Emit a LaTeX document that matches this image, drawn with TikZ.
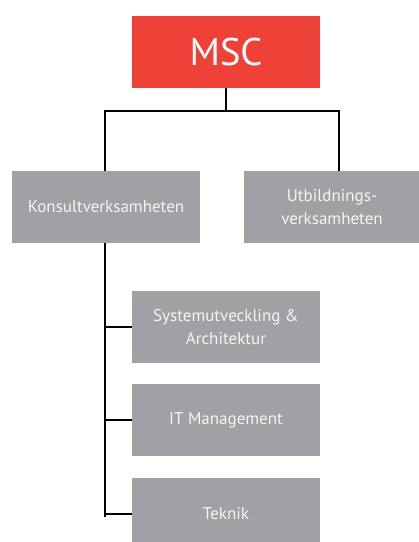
\documentclass[tikz,border=0pt]{standalone}
\usepackage{fontspec}
\setmainfont{PT Sans}
\definecolor{mscred}{HTML}{EE4137}
\definecolor{boxgray}{HTML}{A0A1A4}
\definecolor{txt}{HTML}{F4F4F4}
\begin{document}
\begin{tikzpicture}[x=1pt,y=-1pt,
  redbox/.style={fill=mscred,draw=none,minimum width=188pt,minimum height=72pt,inner sep=0pt,text=white,font=\fontsize{38.5}{42}\selectfont},
  graybox/.style={fill=boxgray,draw=none,minimum height=72pt,inner sep=0pt,text=txt,align=center,font=\fontsize{17}{22.5}\selectfont},
  conn/.style={line width=2pt,black}]
\useasboundingbox (0,0) rectangle (419,542);
\clip (0,0) rectangle (419,542);
\node[redbox] (msc) at (226,52) {MSC};
\node[graybox,minimum width=188pt] (kons) at (106,207) {Konsultverksamheten};
\node[graybox,minimum width=176pt] (utb) at (332,207) {Utbildnings-\\verksamheten};
\node[graybox,minimum width=188pt] (sys) at (226,327) {Systemutveckling \&\\Architektur};
\node[graybox,minimum width=188pt] (itm) at (226,420) {IT Management};
\node[graybox,minimum width=188pt] (tek) at (226,514) {Teknik};
\coordinate (top) at (226,111);
\coordinate (tl) at (105,111);
\coordinate (tr) at (339,111);
\coordinate (bend) at (105,517);
\draw[conn] (msc.south) -- (top);
\draw[conn] (tl |- kons.north) -- (tl) -- (tr) -- (tr |- utb.north);
\draw[conn] (tl |- kons.south) -- (bend);
\draw[conn] (tl |- sys.west) -- (sys.west);
\draw[conn] (tl |- itm.west) -- (itm.west);
\draw[conn] (tl |- tek.west) -- (tek.west);
\end{tikzpicture}
\end{document}
